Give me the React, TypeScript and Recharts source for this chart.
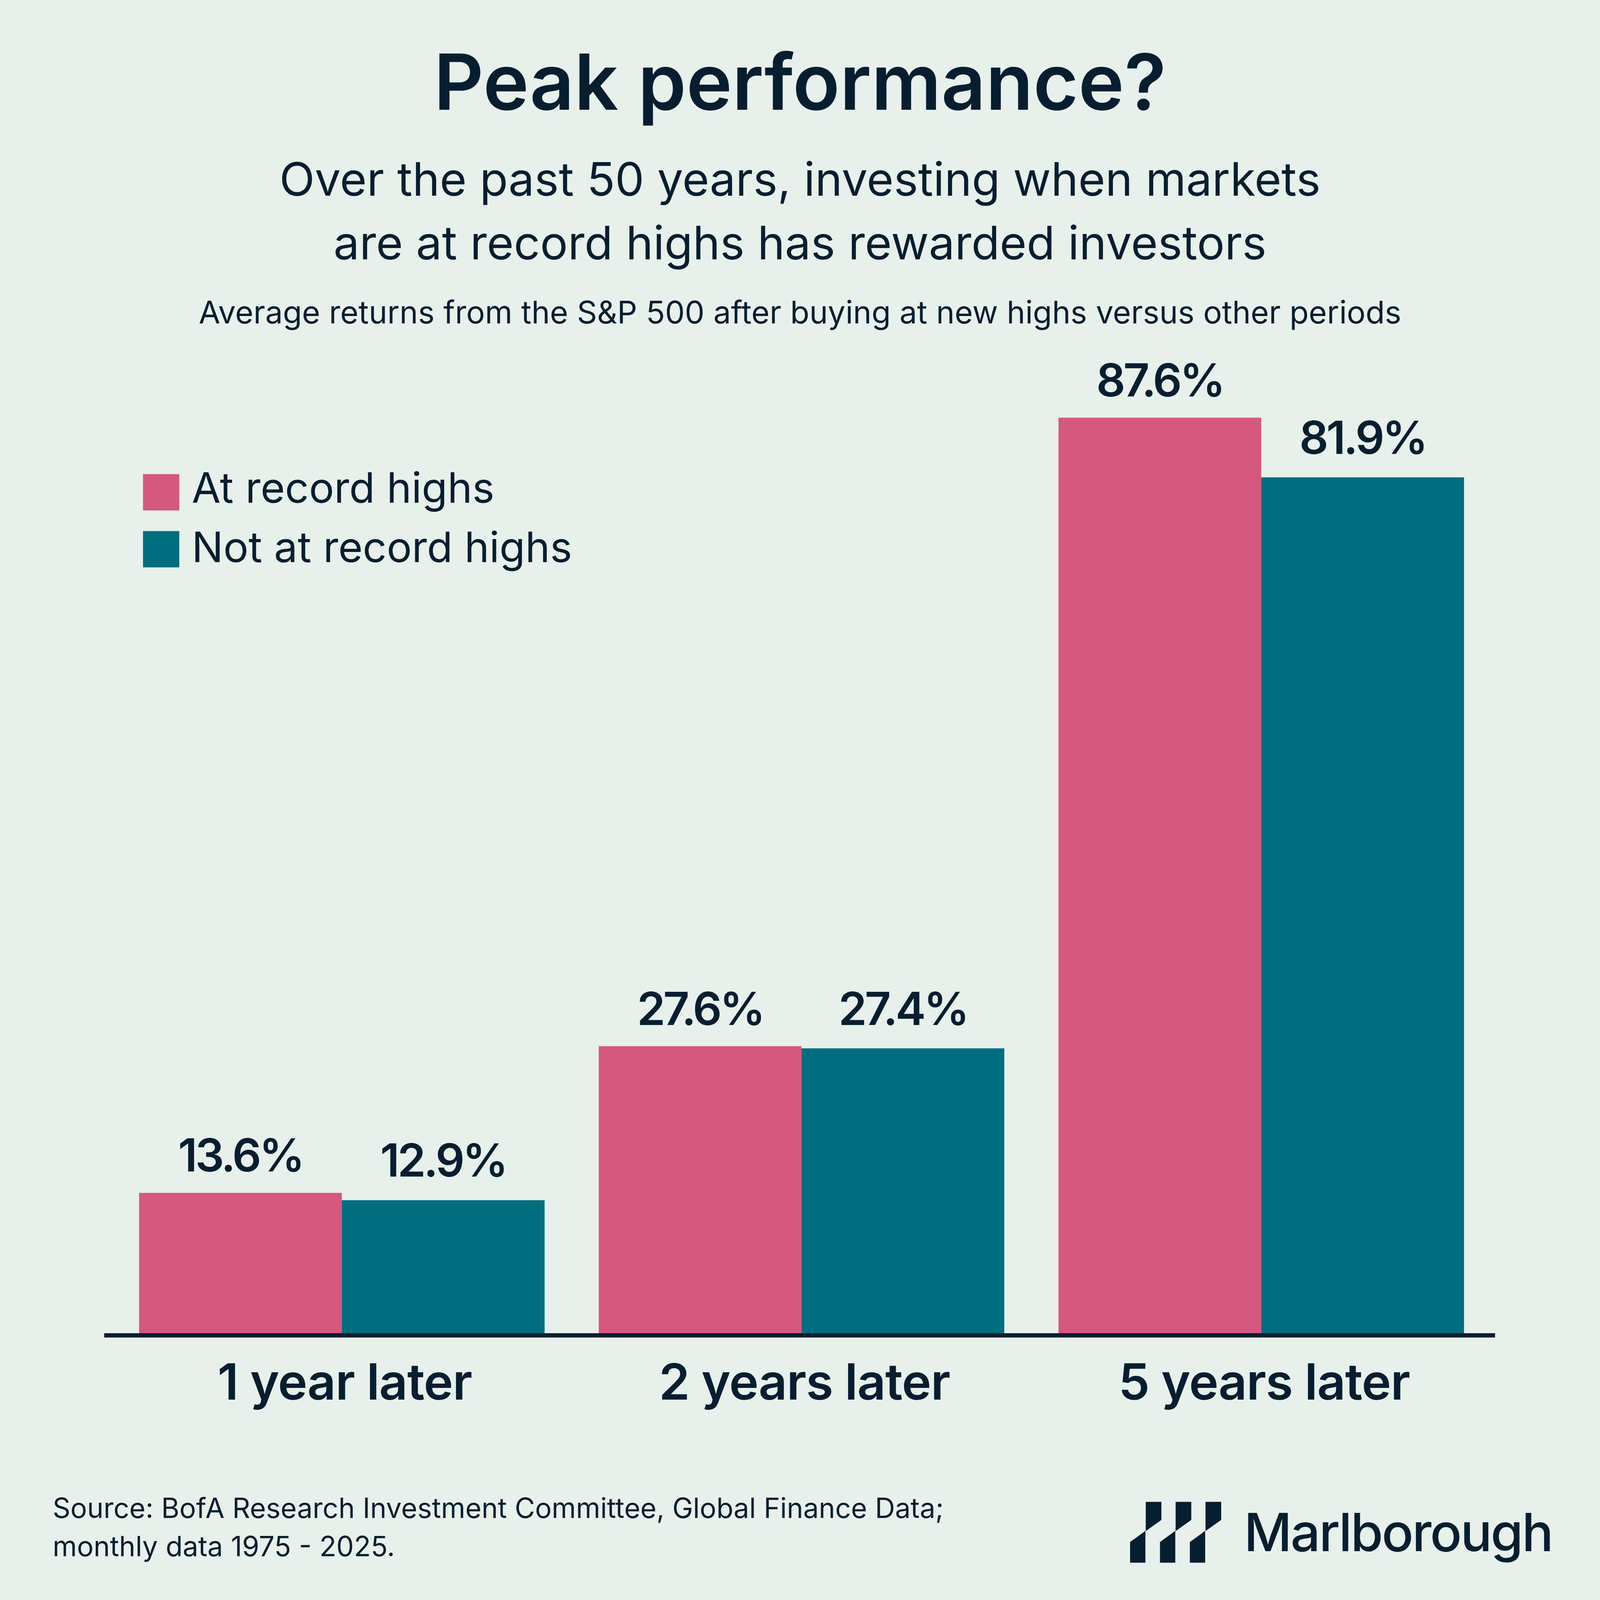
import React from 'react';
import { BarChart, Bar, XAxis, YAxis, LabelList, Legend } from 'recharts';

const categories = ['1 year later', '2 years later', '5 years later'];
const atRecordHighs = [13.6, 27.6, 87.6];
const notAtRecordHighs = [12.9, 27.4, 81.9];
const seriesNames = ['At record highs', 'Not at record highs'];

const data = categories.map((c, i) => ({
  name: c,
  at: atRecordHighs[i],
  notAt: notAtRecordHighs[i],
}));

const SIZE = 4498;
const BG = '#E7F0EB';
const PINK = '#D5587F';
const TEAL = '#006E7F';
const INK = '#061E30';
const FONT = 'Inter, "Noto Sans", sans-serif';

const XTick = (props: any) => {
  const { x, y, payload } = props;
  return (
    <text x={x + 8} y={y + 181} textAnchor="middle" fontSize={140} fontWeight={600} letterSpacing={-1.5} fill={INK} fontFamily={FONT}>
      {payload.value}
    </text>
  );
};

const LegendContent = (props: any) => {
  const payload = props.payload || [];
  return (
    <svg width={1500} height={330} style={{ display: 'block' }}>
      {payload.map((p: any, i: number) => (
        <g key={i}>
          <rect x={0} y={33 + i * 160} width={102} height={102} fill={p.color} />
          <text x={137} y={113 + i * 167} fontSize={118} fontWeight={400} fill={INK} fontFamily={FONT}>
            {p.value}
          </text>
        </g>
      ))}
    </svg>
  );
};

const fmt = (v: any) => `${Number(v).toFixed(1)}%`;

function Logo() {
  const base = [
    [3221, 4222], [3265, 4222], [3265, 4273], [3220, 4305],
    [3220, 4393], [3177, 4393], [3177, 4335], [3221, 4303],
  ];
  return (
    <g fill={INK}>
      {[0, 1, 2].map((k) => (
        <polygon key={k} points={base.map(([x, y]) => `${x + k * 84},${y}`).join(' ')} strokeLinejoin="round" />
      ))}
    </g>
  );
}

export default function App() {
  const vw = typeof window !== 'undefined' ? Math.min(window.innerWidth, window.innerHeight) : SIZE;
  const s = vw > 0 ? vw / SIZE : 1;
  const labelProps = { fill: INK, fontSize: 128, fontWeight: 600, fontFamily: FONT, letterSpacing: -6 };
  return (
    <div style={{ position: 'fixed', left: 0, top: 0, width: SIZE * s, height: SIZE * s, background: BG, overflow: 'hidden' }}>
      <div style={{ position: 'absolute', left: 0, top: 0, width: SIZE, height: SIZE, transform: `scale(${s})`, transformOrigin: '0 0', fontFamily: FONT }}>
        <BarChart
          width={SIZE}
          height={SIZE}
          data={data}
          margin={{ top: 809, right: 295, bottom: 544, left: 293 }}
          barGap={0}
          barSize={570}
        >
          <YAxis hide domain={[0, 100]} />
          <Legend
            layout="vertical"
            align="center"
            verticalAlign="middle"
            content={<LegendContent />}
            wrapperStyle={{ position: 'absolute', left: 402, top: 1300, width: 1500, height: 330 }}
          />
          <Bar dataKey="at" name={seriesNames[0]} fill={PINK} isAnimationActive={false}>
            <LabelList dataKey="at" position="top" offset={60} formatter={fmt} {...labelProps} />
          </Bar>
          <Bar dataKey="notAt" name={seriesNames[1]} fill={TEAL} isAnimationActive={false}>
            <LabelList dataKey="notAt" position="top" offset={66} formatter={fmt} {...labelProps} />
          </Bar>
          <XAxis
            dataKey="name"
            height={200}
            padding={{ left: 22, right: 11 }}
            axisLine={{ stroke: INK, strokeWidth: 12 }}
            tickLine={false}
            tickSize={0}
            tickMargin={0}
            tick={<XTick />}
            interval={0}
          />
        </BarChart>
        <svg width={SIZE} height={SIZE} style={{ position: 'absolute', left: 0, top: 0, pointerEvents: 'none' }}>
          <text x={2249} y={309} textAnchor="middle" fontSize={218} fontWeight={600} fill={INK} fontFamily={FONT}>
            Peak performance?
          </text>
          <text x={2249} y={550} textAnchor="middle" fontSize={130} fontWeight={400} fill={INK} fontFamily={FONT}>
            Over the past 50 years, investing when markets
          </text>
          <text x={2249} y={729} textAnchor="middle" fontSize={130} fontWeight={400} fill={INK} fontFamily={FONT}>
            are at record highs has rewarded investors
          </text>
          <text x={2249} y={909} textAnchor="middle" fontSize={88} fontWeight={400} fill={INK} fontFamily={FONT}>
            Average returns from the S&amp;P 500 after buying at new highs versus other periods
          </text>
          <text x={148} y={4267} fontSize={78} fontWeight={400} fill={INK} fontFamily={FONT}>
            Source: BofA Research Investment Committee, Global Finance Data;
          </text>
          <text x={148} y={4375} fontSize={78} fontWeight={400} fill={INK} fontFamily={FONT}>
            monthly data 1975 - 2025.
          </text>
          <Logo />
          <text x={3497} y={4361} fontSize={148} fontWeight={500} letterSpacing={-4} fill={INK} fontFamily={FONT}>
            Marlborough
          </text>
        </svg>
      </div>
    </div>
  );
}
